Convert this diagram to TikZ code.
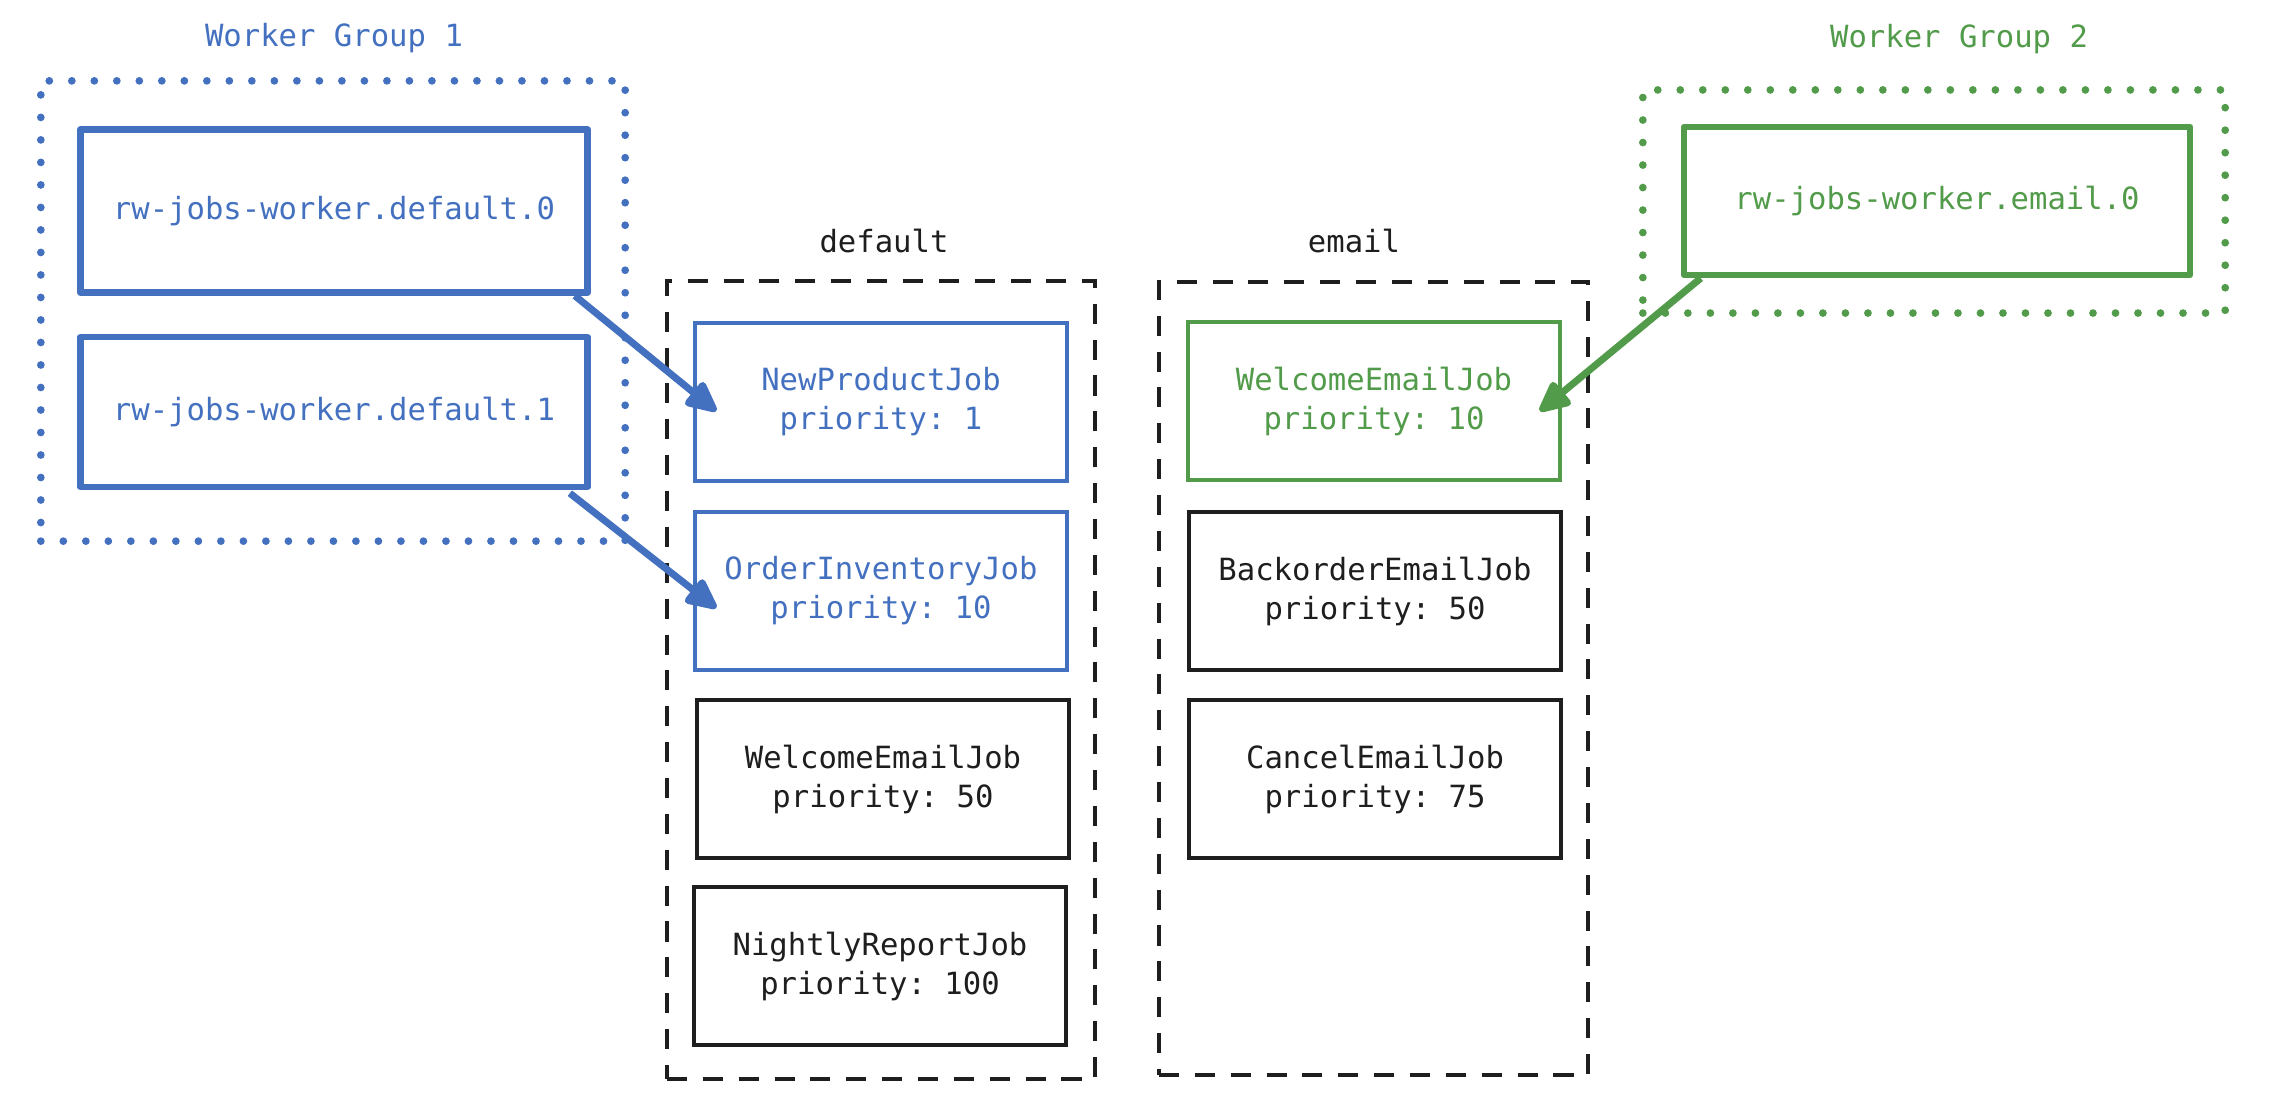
\documentclass[tikz,border=0pt]{standalone}
\usepackage{fontspec}
\setmonofont{DejaVu Sans Mono}
\usetikzlibrary{arrows.meta,calc}
\definecolor{wblue}{RGB}{68,112,192}
\definecolor{wgreen}{RGB}{82,155,74}
\definecolor{ink}{RGB}{30,30,30}
\tikzset{
  every node/.style={font=\ttfamily\fontsize{8.7}{11.1}\selectfont, align=center, inner sep=0pt},
  workerbox/.style={draw, rectangle, line width=1.8pt, line join=round},
  jobbox/.style={draw, rectangle, line width=1pt, minimum width=3.72cm, minimum height=1.58cm},
  grpdot/.style={draw, rectangle, line width=2.2pt, line cap=round, dash pattern=on 0pt off 6.4pt},
  grpdash/.style={draw=ink, rectangle, line width=1.25pt, dash pattern=on 5.7pt off 4.5pt},
  barrow/.style={line width=2pt, -{Triangle[length=10pt,width=9pt,round]}},
}
\begin{document}
\begin{tikzpicture}[x=0.01cm,y=-0.01cm]
\useasboundingbox (0,0) rectangle (2280,1112);

% group containers
\node[grpdot, draw=wblue, minimum width=5.84cm, minimum height=4.60cm] (g1) at (333,311) {};
\node[grpdot, draw=wgreen, minimum width=5.82cm, minimum height=2.23cm] (g2) at (1934,201.5) {};
\node[grpdash, minimum width=4.28cm, minimum height=7.98cm] (qd) at (881,680) {};
\node[grpdash, minimum width=4.29cm, minimum height=7.93cm] (qe) at (1373.5,678.5) {};

% labels
\node[text=wblue] (g1l) at (334,38) {Worker Group 1};
\node[text=wgreen] (g2l) at (1959,39) {Worker Group 2};
\node[text=ink] (qdl) at (884,241) {default};
\node[text=ink] (qel) at (1354,241) {email};

% workers
\node[workerbox, draw=wblue, text=wblue, minimum width=5.07cm, minimum height=1.63cm] (w0) at (334,211) {rw-jobs-worker.default.0};
\node[workerbox, draw=wblue, text=wblue, minimum width=5.07cm, minimum height=1.50cm] (w1) at (334,412) {rw-jobs-worker.default.1};
\node[workerbox, draw=wgreen, text=wgreen, minimum width=5.06cm, minimum height=1.48cm] (e0) at (1937,201) {rw-jobs-worker.email.0};

% default queue jobs
\node[jobbox, draw=wblue, text=wblue] (npj) at (881,402) {NewProductJob\\priority: 1};
\node[jobbox, draw=wblue, text=wblue] (oij) at (881,591) {OrderInventoryJob\\priority: 10};
\node[jobbox, draw=ink, text=ink] (wej) at (883,779) {WelcomeEmailJob\\priority: 50};
\node[jobbox, draw=ink, text=ink] (nrj) at (880,966) {NightlyReportJob\\priority: 100};

% email queue jobs
\node[jobbox, draw=wgreen, text=wgreen] (wej2) at (1374,401) {WelcomeEmailJob\\priority: 10};
\node[jobbox, draw=ink, text=ink] (bej) at (1375,591) {BackorderEmailJob\\priority: 50};
\node[jobbox, draw=ink, text=ink] (cej) at (1375,779) {CancelEmailJob\\priority: 75};

% connectors
\draw[barrow, wblue] ($(w0.south east)+(-16,0)$) -- ($(npj.west)+(23,9)$);
\draw[barrow, wblue] ($(w1.south east)+(-21,3)$) -- ($(oij.west)+(23,17)$);
\draw[barrow, wgreen] ($(e0.south west)+(20,0)$) -- ($(wej2.east)+(-22,10)$);
\end{tikzpicture}
\end{document}
